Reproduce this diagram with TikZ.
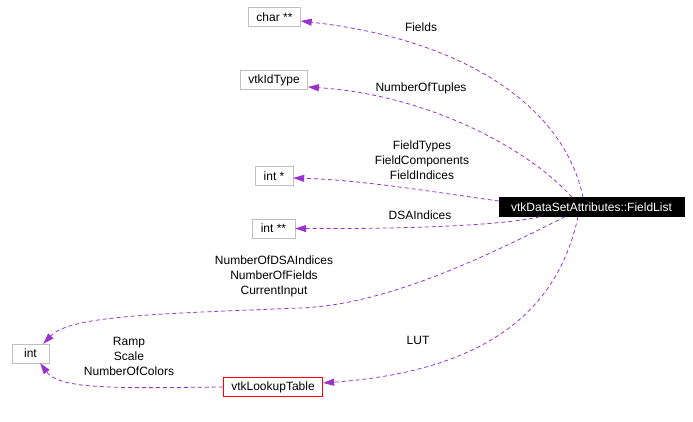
\documentclass[tikz,border=0pt]{standalone}
\usepackage{fontspec}
\setmainfont{Liberation Sans}
\usepackage{xcolor}
\usepackage{tikz}
\usetikzlibrary{arrows.meta}

\definecolor{relpurple}{HTML}{9A32CD}
\definecolor{boxgray}{HTML}{BFBFBF}

\begin{document}
\begin{tikzpicture}[x=1pt, y=-1pt,
  cls/.style={rectangle, draw=boxgray, font=\fontsize{12}{15}\selectfont,
              inner xsep=8pt, inner ysep=0pt, minimum height=19pt},
  focus/.style={cls, draw=black, fill=black, text=white, minimum width=185pt},
  linked/.style={cls, draw=red, thick},
  rel/.style={relpurple, line width=0.8pt, dash pattern=on 4pt off 3pt,
              -{Triangle[length=11pt, width=7pt]}},
  lbl/.style={font=\fontsize{12}{15}\selectfont, align=center, inner sep=0pt}
]
\useasboundingbox (0,0) rectangle (693,422);

\node[cls] (charpp) at (274.5,17) {char **};
\node[cls] (idtype) at (274,80) {vtkIdType};
\node[cls, minimum width=38pt] (intp) at (274,176) {int *};
\node[cls, minimum width=43pt] (intpp) at (273.5,228.5) {int **};
\node[focus] (flist) at (591.5,207) {vtkDataSetAttributes::FieldList};
\node[cls, minimum width=37pt] (intt) at (30.5,353.5) {int};
\node[linked] (lut) at (273,387) {vtkLookupTable};

% Beschriftungen
\node[lbl] (lfields) at (421,27) {Fields};
\node[lbl] (ltuples) at (421,88) {NumberOfTuples};
\node[lbl] (lftypes) at (422,160) {FieldTypes\\FieldComponents\\FieldIndices};
\node[lbl] (ldsa) at (420,215) {DSAIndices};
\node[lbl] (lnum) at (274,276) {NumberOfDSAIndices\\NumberOfFields\\CurrentInput};
\node[lbl] (lramp) at (129,356) {Ramp\\Scale\\NumberOfColors};
\node[lbl] (llut) at (418,340) {LUT};

% Members von FieldList
\draw[rel] ([xshift=-8.5pt]flist.north)
    .. controls (565,110) and (470,40) .. ([yshift=-4pt]charpp.east);
\draw[rel] ([xshift=-19.5pt]flist.north)
    .. controls (530,150) and (430,95) .. ([yshift=-7pt]idtype.east);
\draw[rel] ([yshift=6pt]flist.west)
    .. controls (420,190) and (360,180) .. ([yshift=-2pt]intp.east);
\draw[rel] ([xshift=-51.5pt]flist.south)
    .. controls (500,226) and (400,229) .. (intpp.east);
\draw[rel] ([xshift=-26.5pt]flist.south)
    .. controls (470,265) and (380,305) .. (300,308)
    .. controls (150,314) and (70,316) .. ([xshift=-6pt]intt.north east);
\draw[rel] ([xshift=-13.5pt]flist.south)
    .. controls (560,300) and (500,370) .. ([yshift=4pt]lut.east);

% Members von vtkLookupTable
\draw[rel] (lut.west)
    .. controls (120,388) and (60,390) .. ([xshift=-9pt]intt.south east);

\end{tikzpicture}
\end{document}
